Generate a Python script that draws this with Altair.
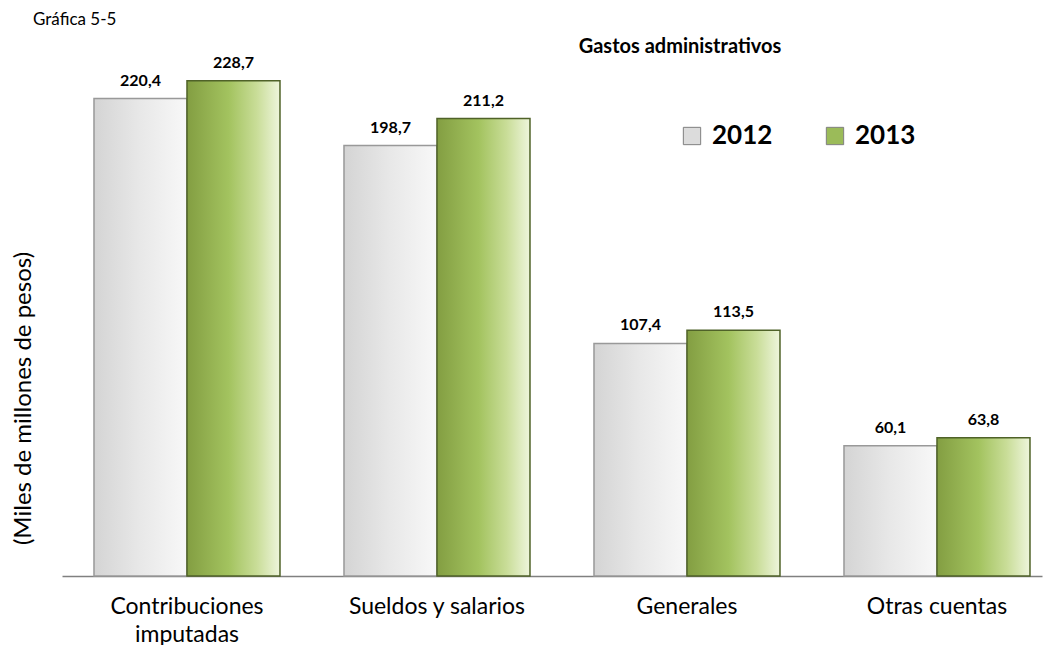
import altair as alt
import pandas as pd

categories = ["Contribuciones imputadas", "Sueldos y salarios", "Generales", "Otras cuentas"]
years = ["2012", "2013"]
v2012 = [220.4, 198.7, 107.4, 60.1]
v2013 = [228.7, 211.2, 113.5, 63.8]
chart_title = "Gastos administrativos"
chart_note = "Gráfica 5-5"
y_title = "(Miles de millones de pesos)"

rows = []
for c, a, b in zip(categories, v2012, v2013):
    rows.append({"cat": c, "year": "2012", "value": a})
    rows.append({"cat": c, "year": "2013", "value": b})
df = pd.DataFrame(rows)
df["label"] = df["value"].map(lambda v: f"{v:.1f}".replace(".", ","))

FONT = "Lato"

grad12 = alt.LinearGradient(
    gradient="linear", x1=0, x2=1, y1=0, y2=0,
    stops=[alt.GradientStop(color="#d4d4d4", offset=0),
           alt.GradientStop(color="#e8e8e8", offset=0.5),
           alt.GradientStop(color="#f8f8f8", offset=1)])
grad13 = alt.LinearGradient(
    gradient="linear", x1=0, x2=1, y1=0, y2=0,
    stops=[alt.GradientStop(color="#839e42", offset=0),
           alt.GradientStop(color="#a3c35f", offset=0.45),
           alt.GradientStop(color="#c9dd98", offset=0.75),
           alt.GradientStop(color="#eef5dc", offset=1)])

xenc = alt.X(
    "cat:N", sort=categories, title=None,
    scale=alt.Scale(paddingInner=0.256, paddingOuter=0.088, align=0.727),
    axis=alt.Axis(
        labelAngle=0, labelFontSize=23, labelFont=FONT, labelColor="#000000",
        labelPadding=19, labelLineHeight=28, labelLimit=400, ticks=False,
        domainColor="#808080", domainWidth=1.5, grid=False,
        labelExpr="datum.value == 'Contribuciones imputadas' ? ['Contribuciones', 'imputadas'] : datum.value",
    ),
)
xoff = alt.XOffset("year:N", sort=years, scale=alt.Scale(paddingInner=0, paddingOuter=0))
yenc = alt.Y(
    "value:Q",
    scale=alt.Scale(domain=[0, 235], nice=False, zero=True),
    axis=alt.Axis(
        labels=False, ticks=False, domain=False, grid=False,
        title=y_title, titleFontSize=24, titleFont=FONT,
        titleFontWeight="normal", titleColor="#000000",
        titleX=-39, titleY=331, titleBaseline="middle", titleAngle=-90,
    ),
)

base = alt.Chart(df).encode(x=xenc, xOffset=xoff, y=yenc)

legend_layer = base.mark_bar().encode(
    color=alt.Color(
        "year:N", sort=years,
        scale=alt.Scale(domain=years, range=["#dcdcdc", "#9bbb59"]),
        legend=alt.Legend(
            title=None, orient="none", legendX=617, legendY=56,
            direction="horizontal", symbolType="square", symbolSize=300,
            labelFontSize=26, labelFontWeight="bold", labelFont=FONT,
            labelColor="#000000", columnPadding=49, labelOffset=7,
            symbolStrokeColor="#7f7f7f", symbolStrokeWidth=1, padding=0,
        ),
    )
)

bars12 = base.transform_filter(alt.datum.year == "2012").mark_bar(
    color=grad12, stroke="#999999", strokeWidth=1.5
)
bars13 = base.transform_filter(alt.datum.year == "2013").mark_bar(
    color=grad13, stroke="#4f6228", strokeWidth=1.5
)

labels = base.mark_text(
    dy=-10, baseline="bottom", fontSize=16, fontWeight="bold", font=FONT, color="#000000"
).encode(text="label:N")

note = alt.Chart(pd.DataFrame({"t": [chart_note]})).mark_text(
    align="left", baseline="alphabetic", fontSize=17, font=FONT, color="#000000"
).encode(x=alt.value(-29), y=alt.value(-42), text="t:N")

title_txt = alt.Chart(pd.DataFrame({"t": [chart_title]})).mark_text(
    align="center", baseline="alphabetic", fontSize=20, fontWeight="bold",
    font=FONT, color="#000000"
).encode(x=alt.value(618), y=alt.value(-14), text="t:N")

chart = alt.layer(legend_layer, bars12, bars13, labels, note, title_txt).properties(
    width=980, height=509,
    autosize=alt.AutoSizeParams(type="none"),
    padding={"left": 54, "top": 59, "right": 5, "bottom": 69},
).configure_view(stroke=None)

chart.save("out.html", embed_options={"renderer": "svg", "actions": False})
